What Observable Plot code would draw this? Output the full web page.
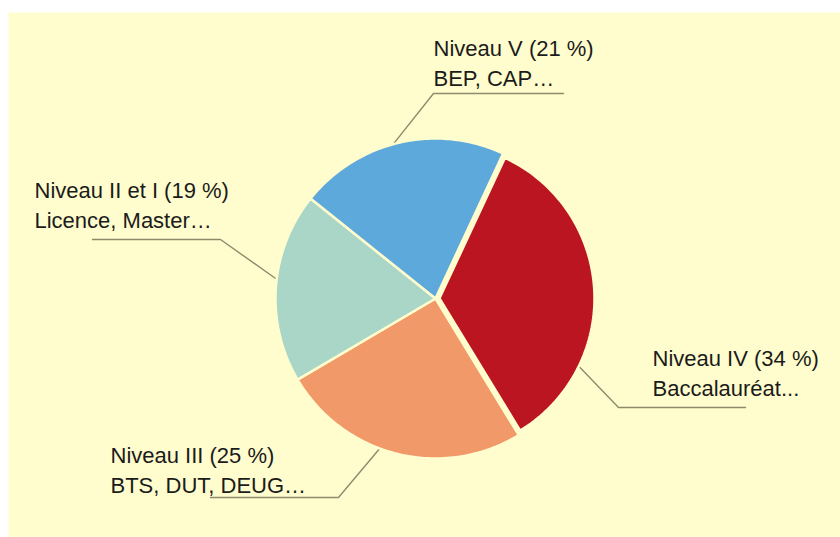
<!DOCTYPE html>
<html><head><meta charset="utf-8">
<script src="https://cdn.jsdelivr.net/npm/d3@7"></script>
<script src="https://cdn.jsdelivr.net/npm/@observablehq/plot@0.6"></script>
<style>body{margin:0;background:#fff;} svg{display:block}</style>
</head><body><div id="chart"></div>
<script>
// ---- data ----
const levels = ["Niveau IV", "Niveau III", "Niveau II et I", "Niveau V"];
const shares = [34, 25, 19, 21];
const examples = ["Baccalauréat...", "BTS, DUT, DEUG…", "Licence, Master…", "BEP, CAP…"];
const sliceColors = ["#BC1522", "#F2996A", "#A9D6C6", "#5EA9DB"];

// ---- layout ----
const W = 840, H = 537;
const cx = 435, cy = 298;
const sliceRadius = [155, 160, 160, 160];
const explode = [4, 0, 0, 0];
const startDeg = 25;
const anchorDeg = [116, 200.4, 276.9, 344.7];
const elbow = [[618, 407], [338, 497], [220, 239], [433, 93]];
const tailX = [745, 210, 92, 563];
const labelX = [652, 110, 34, 433];
const labelY = [395, 492, 227, 85];
const bg = "#FFFDCD";

const rad = d => d * Math.PI / 180;
const arcs = d3.pie().sort(null).startAngle(rad(startDeg)).endAngle(rad(startDeg + 360))(shares);

const slicePts = [];
arcs.forEach((a, i) => {
  const mid = (a.startAngle + a.endAngle) / 2;
  const ox = cx + explode[i] * Math.sin(mid), oy = cy - explode[i] * Math.cos(mid);
  const r = sliceRadius[i];
  slicePts.push({key: i, x: ox, y: oy, color: sliceColors[i]});
  const n = 80;
  for (let k = 0; k <= n; k++) {
    const t = a.startAngle + (a.endAngle - a.startAngle) * k / n;
    slicePts.push({key: i, x: ox + r * Math.sin(t), y: oy - r * Math.cos(t), color: sliceColors[i]});
  }
  slicePts.push({key: i, x: ox, y: oy, color: sliceColors[i]});
});

const leaderPts = [];
arcs.forEach((a, i) => {
  const mid = (a.startAngle + a.endAngle) / 2;
  const ox = cx + explode[i] * Math.sin(mid), oy = cy - explode[i] * Math.cos(mid);
  const t = rad(anchorDeg[i]), r = sliceRadius[i];
  leaderPts.push({key: i, x: ox + r * Math.sin(t), y: oy - r * Math.cos(t)});
  leaderPts.push({key: i, x: elbow[i][0], y: elbow[i][1]});
  leaderPts.push({key: i, x: tailX[i], y: elbow[i][1]});
});

const idx = d3.range(levels.length);

const chart = Plot.plot({
  width: W, height: H, margin: 0,
  x: {domain: [0, W], range: [0, W], axis: null},
  y: {domain: [0, H], range: [0, H], axis: null},
  color: {type: "identity"},
  style: {background: "#ffffff", fontFamily: "'Liberation Sans', Arial, sans-serif"},
  marks: [
    Plot.frame({fill: bg, stroke: null, insetLeft: 8, insetTop: 12}),
    Plot.line(leaderPts, {x: "x", y: "y", z: "key", stroke: "#8D8B6C", strokeWidth: 1.4}),
    Plot.line(slicePts, {x: "x", y: "y", z: "key", fill: "color", stroke: bg, strokeWidth: 2.5, strokeLinejoin: "round"}),
    Plot.text(idx, {
      x: i => labelX[i], y: i => labelY[i],
      text: i => `${levels[i]} (${shares[i]} %)\n${examples[i]}`,
      textAnchor: "start", lineAnchor: "bottom", lineHeight: 1.32,
      fontSize: 22, fill: "#1b1b1b"
    })
  ]
});
document.getElementById("chart").append(chart);
</script>
</body></html>
